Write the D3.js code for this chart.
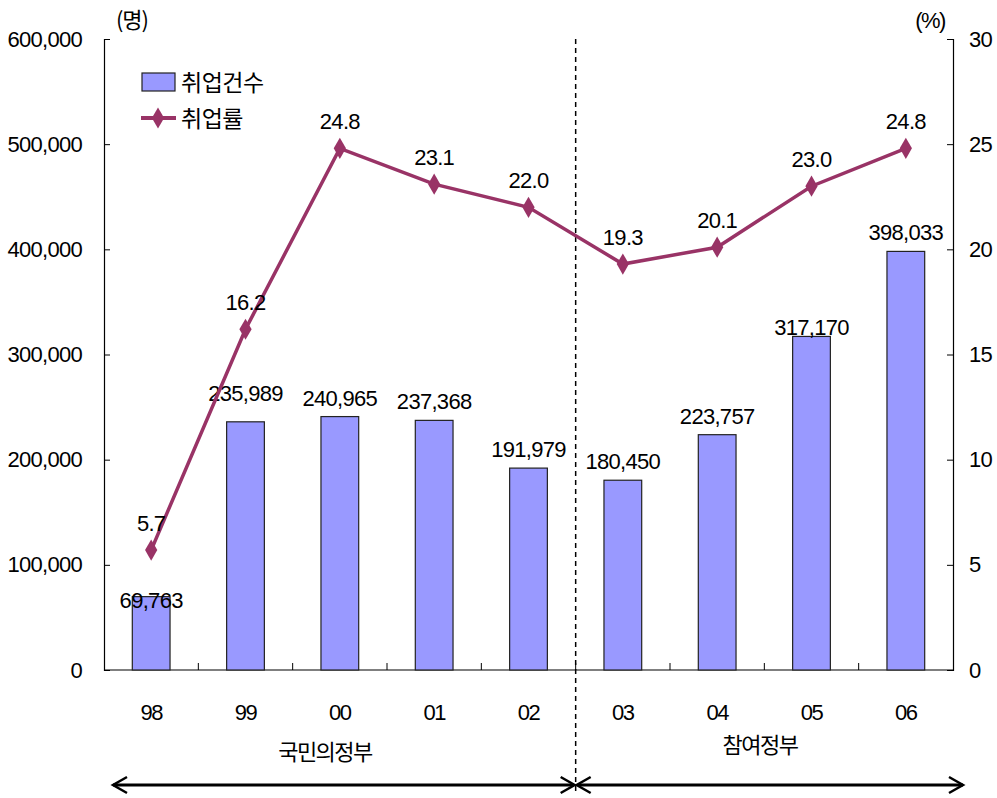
<!DOCTYPE html>
<html><head><meta charset="utf-8">
<script src="https://cdn.jsdelivr.net/npm/d3@7"></script>
<style>
body{margin:0;background:#fff;}
text{font-family:"Liberation Sans",Arial,sans-serif;fill:#000;}
.kr{font-family:"Noto Sans CJK KR",sans-serif;}
</style></head><body>
<svg id="c" width="997" height="798"></svg>
<script>
const categories = ["98","99","00","01","02","03","04","05","06"];
const employment = [69763,235989,240965,237368,191979,180450,223757,317170,398033];
const rate = [5.7,16.2,24.8,23.1,22.0,19.3,20.1,23.0,24.8];
const leftTicks = [0,100000,200000,300000,400000,500000,600000];
const rightTicks = [0,5,10,15,20,25,30];
const periods = ["국민의정부","참여정부"];
const seriesNames = ["취업건수","취업률"];

const svg = d3.select("#c");
const L=104, R=953, T=39, B=670;
const x = d3.scaleBand().domain(categories).range([L,R]).paddingInner(0.6).paddingOuter(0.3);
const xs = d3.scaleBand().domain(categories).range([L,R]);
const yL = d3.scaleLinear().domain([0,600000]).range([B,T]);
const yR = d3.scaleLinear().domain([0,30]).range([B,T]);
const fmt = d3.format(",");
const lineColor = "#993366";
const fs = 22, ls = "-0.7";

// axes
const gl = svg.append("g").attr("transform",`translate(${L},0)`)
  .call(d3.axisLeft(yL).tickValues(leftTicks).tickSize(-6).tickPadding(22).tickFormat(fmt));
const gr = svg.append("g").attr("transform",`translate(${R},0)`)
  .call(d3.axisRight(yR).tickValues(rightTicks).tickSize(-6).tickPadding(16));
[gl,gr].forEach(g=>{
  g.select(".domain").attr("stroke","#000").attr("stroke-width",1.2);
  g.selectAll(".tick line").attr("stroke","#000");
  g.selectAll("text").style("font-size",fs+"px").attr("letter-spacing",ls).attr("font-family","Liberation Sans");
});
// bottom axis line
svg.append("line").attr("x1",L).attr("x2",R).attr("y1",B).attr("y2",B).attr("stroke","#000").attr("stroke-width",1.2);
// category boundary ticks
categories.forEach((c,i)=>{ if(i>0){
  svg.append("line").attr("x1",xs(c)).attr("x2",xs(c)).attr("y1",B).attr("y2",B-7).attr("stroke","#000");
}});
// category labels
svg.selectAll(".cat").data(categories).enter().append("text")
  .attr("x",d=>xs(d)+xs.bandwidth()/2).attr("y",720).attr("text-anchor","middle")
  .style("font-size",fs+"px").attr("letter-spacing","-1.5").text(d=>d);

// unit labels
svg.append("text").attr("class","kr").attr("x",132).attr("y",28).attr("text-anchor","middle").style("font-size","22px").attr("letter-spacing","-1").text("(명)");
svg.append("text").attr("x",930).attr("y",28).attr("text-anchor","middle").style("font-size","22px").attr("letter-spacing","-1.5").text("(%)");

// bars
svg.selectAll(".bar").data(employment).enter().append("rect")
  .attr("x",(d,i)=>x(categories[i])).attr("width",x.bandwidth())
  .attr("y",d=>yL(d)).attr("height",d=>B-yL(d))
  .attr("fill","#9999FF").attr("stroke","#222").attr("stroke-width",1.2);

// bar labels (some nudged as in the original)
const nudge = {"98":-22, "99":10, "05":-10};
svg.selectAll(".bl").data(employment).enter().append("text")
  .attr("x",(d,i)=>xs(categories[i])+xs.bandwidth()/2)
  .attr("y",(d,i)=>yL(d)-11-(nudge[categories[i]]||0)).attr("text-anchor","middle")
  .style("font-size",fs+"px").attr("letter-spacing",ls).text(d=>fmt(d));

// dashed divider
const divX = xs(categories[5]);
svg.append("line").attr("x1",divX).attr("x2",divX).attr("y1",T).attr("y2",792)
  .attr("stroke","#000").attr("stroke-width",1.5).attr("stroke-dasharray","5,4");

// line
const cx = (d,i)=>xs(categories[i])+xs.bandwidth()/2;
svg.append("path").datum(rate)
  .attr("d",d3.line().x(cx).y(d=>yR(d)))
  .attr("fill","none").attr("stroke",lineColor).attr("stroke-width",3.5);
const diamond = d3.symbol().type(d3.symbolDiamond).size(130);
svg.selectAll(".pt").data(rate).enter().append("path")
  .attr("d",diamond).attr("transform",(d,i)=>`translate(${cx(d,i)},${yR(d)})`).attr("fill",lineColor);
svg.selectAll(".rl").data(rate).enter().append("text")
  .attr("x",cx).attr("y",d=>yR(d)-19).attr("text-anchor","middle")
  .style("font-size",fs+"px").attr("letter-spacing",ls).text(d=>d.toFixed(1));

// period labels
svg.append("text").attr("class","kr").attr("x",325).attr("y",760).attr("text-anchor","middle").style("font-size","22px").attr("letter-spacing","-1.5").text(periods[0]);
svg.append("text").attr("class","kr").attr("x",760).attr("y",753).attr("text-anchor","middle").style("font-size","22px").attr("letter-spacing","-1.5").text(periods[1]);

// arrows
const ay = 785;
function arrowLine(x1,x2){
  svg.append("line").attr("x1",x1).attr("x2",x2).attr("y1",ay).attr("y2",ay).attr("stroke","#000").attr("stroke-width",3);
}
function head(xp,dir){ // dir -1 pointing left, +1 pointing right
  svg.append("path").attr("d",`M${xp-dir*14},${ay-8} L${xp},${ay} L${xp-dir*14},${ay+8}`)
    .attr("fill","none").attr("stroke","#000").attr("stroke-width",2.5);
}
arrowLine(113,divX-2); head(113,-1); head(divX-1,1);
arrowLine(divX+2,963); head(divX+1,-1); head(963,1);

// legend
svg.append("rect").attr("x",142).attr("y",73).attr("width",33).attr("height",18).attr("fill","#9999FF").attr("stroke","#222").attr("stroke-width",1.2);
svg.append("text").attr("class","kr").attr("x",181).attr("y",91).style("font-size","23px").attr("letter-spacing","-0.5").text(seriesNames[0]);
svg.append("line").attr("x1",141).attr("x2",176).attr("y1",118).attr("y2",118).attr("stroke",lineColor).attr("stroke-width",4);
svg.append("path").attr("d",diamond).attr("transform","translate(158,118)").attr("fill",lineColor);
svg.append("text").attr("class","kr").attr("x",181).attr("y",127).style("font-size","23px").attr("letter-spacing","-0.5").text(seriesNames[1]);
</script></body></html>
